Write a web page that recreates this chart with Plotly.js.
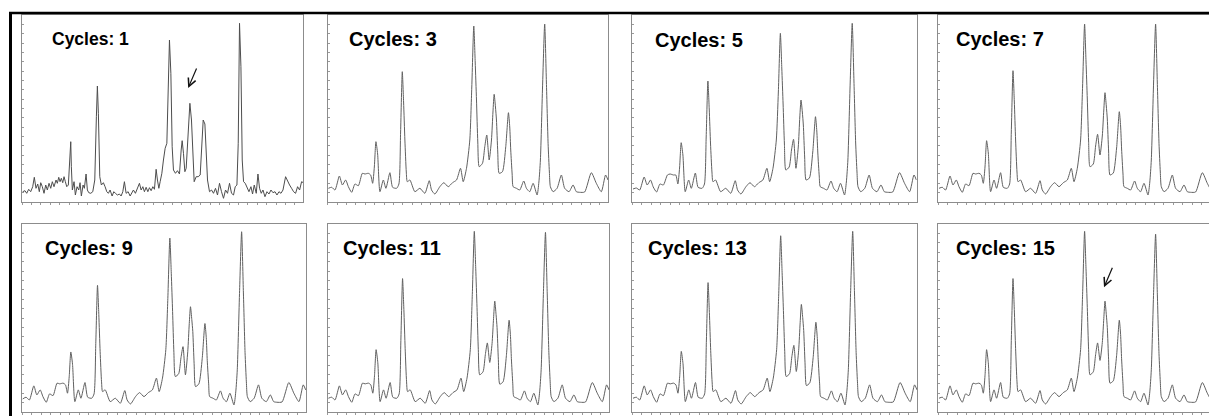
<!DOCTYPE html>
<html>
<head>
<meta charset="utf-8">
<script src="https://cdn.plot.ly/plotly-3.0.1.min.js"></script>
<style>html,body{margin:0;padding:0;background:#fff;}#chart{width:1209px;height:416px;}</style>
</head>
<body>
<div id="chart"></div>
<script>
// ---------- data (scan index vs. intensity, arbitrary units) ----------
const panelLabels = ['Cycles: 1','Cycles: 3','Cycles: 5','Cycles: 7','Cycles: 9','Cycles: 11','Cycles: 13','Cycles: 15'];

const scanNoisy = [0.7,3,4.7,6.7,8.7,10.7,12.3,14,15.7,17.3,
18.7,20.3,22,23.7,25.3,27,28.7,30.3,32,34,
35.3,36.7,38,39.3,40.7,42,43.3,44.7,46.3,48,
48.7,49.3,50.3,52,53.3,55,56.7,58,59.3,61,
62.3,64,65.3,66.7,68.7,70.7,72.7,74.3,75.3,76.3,
77.7,79.3,81.3,83,84.7,86.3,88,90,91.7,93.3,
95.3,97.3,99,100.7,102.3,104,106,108,109.7,111.3,
113.3,115.3,117.3,119,120.7,122.3,124,125.7,127.3,129,
130.7,132.3,134,135.3,136.7,138,139.7,141.3,143,144.7,
146,147.3,148.7,150,151.3,153.3,155.3,157.3,159,160,
161.3,162.7,164,165.7,167.7,169.3,170.7,172,174,176,
178,179.3,181,182.7,184,185.3,187.3,189.3,191.3,193.3,
195.3,197.3,199.3,201.3,203.3,205.3,207.3,209.3,211.3,213,
214.7,216,217.3,218.7,220,221.3,223,224.7,226.7,228.7,
230.3,232,234,235.7,237.3,239,240.7,242.7,244.7,246.7,
248.7,250.7,252.7,254.7,256.7,258.7,260.7,263.3,265.3,267.3,
269.3,271.3,273.3,275.3,277.3,279.3,281];

const cycles1 = [10.3,11.3,8.7,12.7,10.3,15.3,24.7,13.7,18,10.3,
19.3,15.3,8.7,17,12,18.7,13.7,20.3,15.3,22,
18.7,24.7,20.3,23.7,19.3,25.3,20.3,15.3,17,58.7,
60.3,35.3,12,20.3,7,15.3,12,19.3,6,17,
13.7,28,12,9.3,8.7,10.3,22,85.3,116,88.7,
25.3,17,19.3,15.3,10.3,8.7,12,6,10.3,8.7,
7,8,6,10.3,20.3,8.7,10.3,6,9.3,12,
8.7,14.7,18.7,12,15.3,10.3,14.7,10.3,14.3,11.3,
15.3,12.7,32.7,22,13.7,20.3,28.7,42,53.7,58.7,
102,162,128.7,55.3,32,28.7,31.3,28,52,61.3,
48.7,30.3,33.7,58.7,98.7,82,42,20.3,25.3,25.3,
27,55.3,82,78,45.3,22,10.3,12,8.7,13.7,
7,18.7,10.3,3.7,12,8.7,18.7,8.7,7,15.3,
17,58.7,178.7,135.3,42,20.3,18.7,15.3,10.3,15.3,
8,17,8.7,28,13.7,8.7,12,5.3,10.3,8,
12,9.3,10.3,7,10.3,8.7,12,25.3,20.3,17,
13.7,10.3,8.7,15.3,12,20.3,19.3];

const scanSmooth = [0.7,4,7.3,11.7,14.7,18,20.7,24,27.3,30.7,
34.7,37.3,40.7,43,45,46.7,48.3,50,52.3,55.7,
58.3,62.3,65,69,71.3,73,74.7,76,77.3,78.7,
79.7,82.3,87.3,92.3,97.3,101.7,104,107.3,112.3,116.3,
120.7,125,129,133,135.7,139,142.3,144.3,146.3,147.7,
149,150.3,151.7,155,157.3,159.3,161.7,164,165.5,166.7,
168,169,170.3,171.7,175,178.3,181,182.3,183.3,184.7,
185.7,189,192.3,196.3,199,202.3,205.7,209.7,211.5,213,
215.3,217.3,219,220.7,222,223,225.7,229.7,234,237.3,
241.7,245.7,249,252.3,257.3,264,269,274,278.3,280.7];

const cycles3 = [13.7,14.7,12,26,17,22,15.3,9.7,18,16.3,
28.7,28,28.7,27,18.7,35,60.3,48,10.3,22,
13.7,29.3,14.7,13.7,18,70,130.3,100,62,30,
20.3,22,10.3,13.7,8.7,21.3,12,8,15.3,19.3,
15.3,19.3,22,33.7,20.3,33.7,62,115,176,140,
102,60,35.3,38.7,55.3,67,42,62,90,107.7,
95,82,50,28.7,30.3,55.3,89.3,75,52,28,
15.3,13.7,12,21,13.7,10.3,18.7,7,20,42,
120,178,120,58.7,30,15.3,10.3,13.7,27,13.7,
10.3,17,10.3,9.7,10,29.3,18.7,10.3,27,22];

const cycles5 = [13,14,12,25,17,22,15,10,18,17,
27,28,27,27,18,34,59.3,47,10.3,22,
13.7,29,14.7,13.7,18,65,121,93,58,30,
20.3,22,10.3,13.7,8.7,21.3,12,8,15.3,19.3,
15.3,19.3,22,33.7,20.3,33.7,62,110,168.7,134,
98,58,32,35,52,62.7,33.7,55,85,102,
90,77,45,22,24,50,85.3,71,49,26,
15.3,13.7,12,21,13.7,10.3,18.7,7,20,42,
120,178.7,121,59,30,15.3,10.3,13.7,27,13.7,
10.3,17,10.3,9.7,10,29.3,18.7,10.3,27,22];

const cycles7 = [13.7,14.7,12,26,17,22,15.3,9.7,18,16.3,
28.7,28,28.7,27,18.7,35,61.3,49,10.3,22,
13.7,29.3,14.7,13.7,18,70,131.3,101,62,30,
20.3,22,10.3,13.7,8.7,21.3,12,8,15.3,19.3,
15.3,19.3,22,33.7,20.3,33.7,62,116,178,141,
103,61,35.3,38,56,67.7,47,66,92,109.3,
96,83,51,27,29,54,90.3,76,53,28,
15.3,13.7,12,21,13.7,10.3,18.7,7,20,42,
120,178,120,58.7,30,15.3,10.3,13.7,27,13.7,
10.3,17,10.3,9.7,10,29.3,18.7,10.3,27,22];

const cycles9 = [13,14.7,12,26,17,22,15.3,9.7,18,16.3,
28.7,28,28.7,27,18.7,35,59.7,47.5,10.3,22,
13.7,29.3,14.7,13.7,18,68,126,97,60,30,
20.3,22,10.3,13.7,8.7,21.3,12,8,15.3,19.3,
15.3,19.3,22,33.7,20.3,33.7,62,113,173,138,
100,59,35.3,38,54,65,37,60,88,104.7,
92,80,48,25.3,28,53,88,74,51,28,
15.3,13.7,12,21,13.7,10.3,18.7,7,20,42,
121,179.3,121,59,30,15.3,10.3,13.7,27,13.7,
10.3,17,10.3,9.7,10,29.3,18.7,10.3,27,22];

const cycles11 = [13.7,14.7,12,26,17,22,15.3,9.7,18,16.3,
28.7,28,28.7,27,18.7,36,62,49,10.3,22,
13.7,29.3,14.7,13.7,18,71,132.7,102,63,30,
20.3,22,10.3,13.7,8.7,21.3,12,8,15.3,19.3,
15.3,19.3,22,33.7,20.3,33.7,62,117,179.7,143,
104,62,37,40,57,68.7,49.3,68,93,110.3,
97,84,52,27.7,30,56,91.3,77,53,28,
15.3,13.7,12,21,13.7,10.3,18.7,7,20,42,
120,178.7,120,59,30,15.3,10.3,13.7,27,13.7,
10.3,17,10.3,9.7,10,29.3,18.7,10.3,27,22];

const cycles13 = [13.7,14.7,12,26,17,22,15.3,9.7,18,16.3,
28.7,28,28.7,27,18.7,35,60.3,48,10.3,22,
13.7,29.3,14.7,13.7,18,69,128.7,99,61,30,
20.3,22,10.3,13.7,8.7,21.3,12,8,15.3,19.3,
15.3,19.3,22,33.7,20.3,33.7,62,115,175.3,139,
101,60,35.3,38,55,66.3,40.3,61,89,107,
94,81,49,26.3,29,54,89.3,75,52,28,
15.3,13.7,12,21,13.7,10.3,18.7,7,20,42,
121,179.7,121,59,30,15.3,10.3,13.7,27,13.7,
10.3,17,10.3,9.7,10,29.3,18.7,10.3,27,22];

const cycles15 = [13.7,14.7,12,26,17,22,15.3,9.7,18,16.3,
28.7,28,28.7,27,18.7,36,62,49,10.3,22,
13.7,29.3,14.7,13.7,18,71,132.7,102,63,30,
20.3,22,10.3,13.7,8.7,21.3,12,8,15.3,19.3,
15.3,19.3,22,33.7,20.3,33.7,62,117,179.7,143,
104,62,37,40,57,68.7,51.3,69,93,110.3,
97,84,52,28.7,31,56,91.3,77,53,28,
15.3,13.7,12,21,13.7,10.3,18.7,7,20,42,
119,177,119,58,30,15.3,10.3,13.7,27,13.7,
10.3,17,10.3,9.7,10,29.3,18.7,10.3,27,22];

// arrows mark the peak of interest: [panel index, scan, intensity]
const arrowMarks = [[0, 166, 114], [7, 165.7, 124]];

// ---------- layout ----------
const W = 1209, H = 416;
const seriesX = [scanNoisy, scanSmooth, scanSmooth, scanSmooth, scanSmooth, scanSmooth, scanSmooth, scanSmooth];
const seriesY = [cycles1, cycles3, cycles5, cycles7, cycles9, cycles11, cycles13, cycles15];

// pixel boxes of each panel [left, right, top, bottom]
const boxes = [
  [22, 303.3, 15, 202], [327.7, 608.3, 15, 202], [632.3, 916.7, 15, 202], [938.3, 1219.3, 15, 202],
  [22, 306, 224, 412], [327.7, 609.3, 224, 412], [632.3, 917.3, 224, 412], [938.3, 1219.3, 224, 412]
];
const labelPos = [[50, 38.7, 17.5], [346.7, 39, 20], [653.3, 40, 20], [954, 39, 20],
                  [42.7, 248.3, 20], [340.7, 247.7, 20], [645.7, 248.3, 20], [954, 248.3, 20]];
const FULLX = 281, FULLY = 187;

const data = [];
const layout = {
  width: W, height: H,
  margin: {l: 0, r: 0, t: 0, b: 0},
  paper_bgcolor: '#ffffff', plot_bgcolor: '#ffffff',
  showlegend: false,
  shapes: [
    {type: 'line', xref: 'paper', yref: 'paper', x0: 10.5 / W, x1: 10.5 / W, y0: 0, y1: 1 - 12 / H,
     line: {color: '#000', width: 3}},
    {type: 'line', xref: 'paper', yref: 'paper', x0: 9 / W, x1: 1, y0: 1 - 13 / H, y1: 1 - 13 / H,
     line: {color: '#000', width: 2.5}}
  ],
  annotations: []
};

boxes.forEach((b, i) => {
  const n = i + 1;
  const xa = n === 1 ? 'xaxis' : 'xaxis' + n;
  const ya = n === 1 ? 'yaxis' : 'yaxis' + n;
  const right = Math.min(b[1], W);
  const xmax = FULLX * (right - b[0]) / (b[1] - b[0]);
  const cut = b[1] > W;
  layout[xa] = {
    domain: [b[0] / W, right / W], range: [0, xmax], anchor: n === 1 ? 'y' : 'y' + n,
    showline: true, linecolor: '#8c8c8c', linewidth: 1, mirror: true,
    showgrid: false, zeroline: false, showticklabels: false,
    ticks: 'outside', ticklen: 2, tickcolor: '#9a9a9a', tickwidth: 1, tick0: 0, dtick: 9.4,
    fixedrange: true
  };
  layout[ya] = {
    domain: [1 - b[3] / H, 1 - b[2] / H], range: [0, FULLY], anchor: n === 1 ? 'x' : 'x' + n,
    showline: true, linecolor: '#8c8c8c', linewidth: 1, mirror: cut ? false : true,
    showgrid: false, zeroline: false, showticklabels: false,
    ticks: 'inside', ticklen: 2, tickcolor: '#9a9a9a', tickwidth: 1, tick0: 0, dtick: 9.35,
    fixedrange: true
  };
  data.push({
    type: 'scatter', mode: 'lines',
    x: seriesX[i], y: seriesY[i],
    xaxis: n === 1 ? 'x' : 'x' + n, yaxis: n === 1 ? 'y' : 'y' + n,
    line: i === 0 ? {color: '#4d4d4d', width: 1}
                  : {color: '#606060', width: 1, shape: 'spline', smoothing: 0.6},
    hoverinfo: 'skip'
  });
  const lp = labelPos[i];
  layout.annotations.push({
    xref: 'paper', yref: 'paper', x: lp[0] / W, y: 1 - lp[1] / H,
    xanchor: 'left', yanchor: 'middle', showarrow: false,
    text: '<b>' + panelLabels[i] + '</b>',
    font: {family: 'Liberation Sans, Arial, sans-serif', size: lp[2], color: '#000'}
  });
});

arrowMarks.forEach(a => {
  const n = a[0] + 1;
  layout.annotations.push({
    xref: n === 1 ? 'x' : 'x' + n, yref: n === 1 ? 'y' : 'y' + n,
    x: a[1], y: a[2], text: '', showarrow: true,
    ax: 9, ay: -21, arrowhead: 5, arrowsize: 1.3, arrowwidth: 1.2, arrowcolor: '#111'
  });
});

Plotly.newPlot('chart', data, layout, {staticPlot: true, displayModeBar: false});
</script>
</body>
</html>
